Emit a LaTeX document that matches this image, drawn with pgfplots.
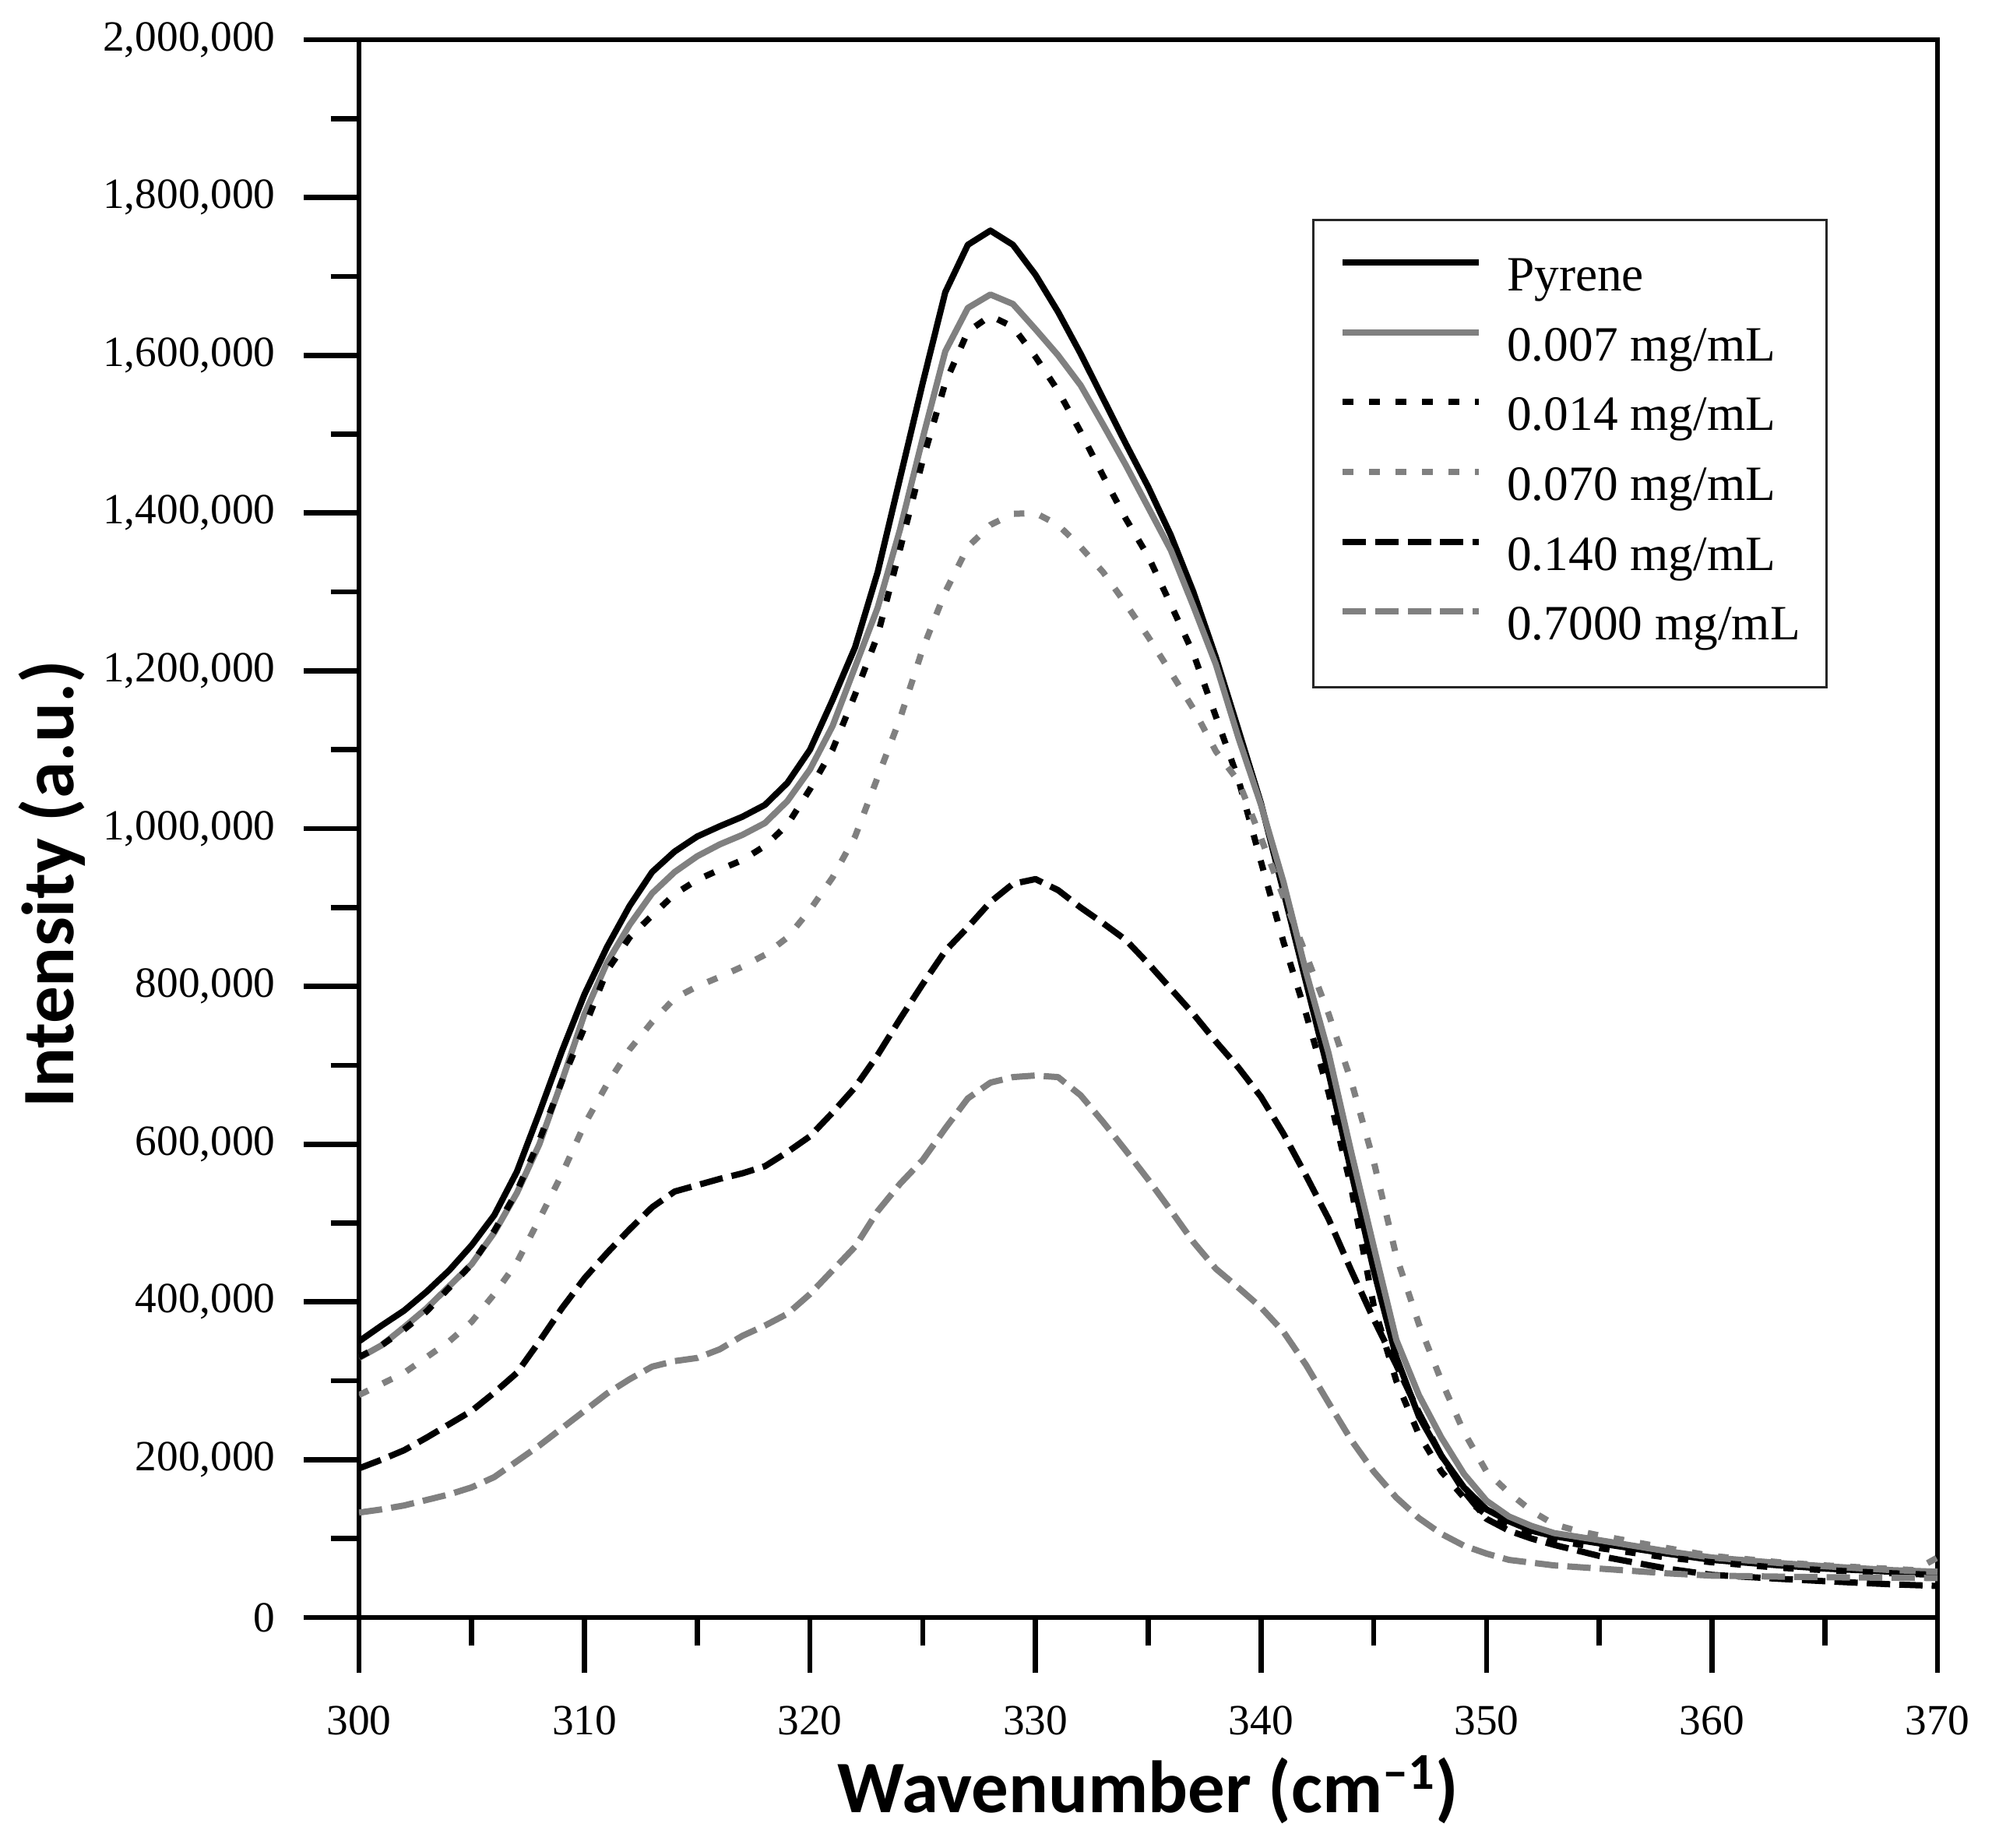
\documentclass[border=0pt]{standalone}
\usepackage{fontspec}
\setmainfont{Liberation Serif}
\newfontfamily\lblfont{Carlito}
\usepackage{pgfplots}
\pgfplotsset{compat=1.18}
\definecolor{mygray}{RGB}{128,128,128}

\begin{document}
\begin{tikzpicture}
\begin{axis}[
 name=ax,
 scale only axis,
 width=608.1pt, height=607.8pt,
 xmin=300, xmax=370, ymin=0, ymax=2000000,
 xtick={300,310,...,370},
 ytick={0,200000,...,2000000},
 minor x tick num=1, minor y tick num=1,
 xtick pos=left, ytick pos=left,
 tick align=outside,
 major tick length=21.3pt, minor tick length=10.9pt,
 tick style={black, line width=2pt},
 axis line style={line width=2pt},
 scaled y ticks=false,
 /pgf/number format/assume math mode=true,
 yticklabel style={/pgf/number format/.cd, fixed, precision=0, 1000 sep={,}},
 xticklabel style={/pgf/number format/.cd, 1000 sep={}},
 every tick label/.append style={font=\fontsize{16.6}{19}\selectfont, inner sep=0pt},
 xticklabel shift=12.7pt, yticklabel shift=10.7pt,
 xlabel={\lblfont\bfseries Wavenumber (cm\textsuperscript{–1})},
 ylabel={\lblfont\bfseries Intensity (a.u.)},
 label style={font=\fontsize{28.5}{34}\selectfont, inner sep=0pt},
 xlabel style={at={(axis description cs:0.5,-0.1238)}, anchor=base},
 ylabel style={at={(axis description cs:-0.1809,0.465)}, anchor=base},
 no markers,
 every axis plot/.append style={line width=2.4pt, line join=round},
 legend style={
   at={(axis description cs:0.6036,0.8865)}, anchor=north west,
   draw=black!85, line width=1pt, fill=white,
   font=\fontsize{19}{22}\selectfont,
   inner xsep=10.2pt, inner ysep=14.1pt,
   row sep=9.6pt, column sep=9.6pt,
   nodes={inner sep=0pt, text height=13.2pt, text depth=4.1pt},
 },
 legend cell align=left,
 legend image code/.code={\draw[line width=2.4pt,#1] (0pt,6.4pt) -- (52.5pt,6.4pt);},
]
% Pyrene
\addplot[black] coordinates {
(300,350000)(301,370000)(302,389000)(303,413000)(304,440000)(305,472000)(306,510000)(307,565000)(308,640000)(309,718000)
(310,790000)(311,850000)(312,902000)(313,945000)(314,971000)(315,990000)(316,1003000)(317,1015000)(318,1030000)(319,1058000)
(320,1100000)(321,1163000)(322,1230000)(323,1325000)(324,1445000)(325,1565000)(326,1680000)(327,1740000)(328,1758000)(329,1740000)
(330,1702000)(331,1655000)(332,1602000)(333,1545000)(334,1488000)(335,1433000)(336,1372000)(337,1300000)(338,1217000)(339,1125000)
(340,1032000)(341,920000)(342,805000)(343,690000)(344,565000)(345,440000)(346,330000)(347,255000)(348,205000)(349,165000)
(350,137000)(351,122000)(352,110000)(353,103000)(355,94000)(358,81000)(360,73000)(363,66000)(365,62000)(368,58000)(370,56000)
};
\addlegendentry{Pyrene}
% 0.007
\addplot[mygray] coordinates {
(300,329000)(301,345000)(302,368000)(303,392000)(304,420000)(305,448000)(306,488000)(307,538000)(308,600000)(309,680000)
(310,765000)(311,830000)(312,878000)(313,918000)(314,945000)(315,965000)(316,980000)(317,992000)(318,1007000)(319,1035000)
(320,1075000)(321,1130000)(322,1205000)(323,1280000)(324,1380000)(325,1495000)(326,1605000)(327,1660000)(328,1677000)(329,1665000)
(330,1633000)(331,1600000)(332,1562000)(333,1512000)(334,1461000)(335,1407000)(336,1353000)(337,1282000)(338,1208000)(339,1115000)
(340,1030000)(341,932000)(342,818000)(343,715000)(344,590000)(345,470000)(346,352000)(347,282000)(348,228000)(349,182000)
(350,148000)(351,128000)(352,116000)(353,107000)(355,98000)(358,84000)(360,76000)(363,69000)(365,65000)(368,60000)(370,58000)
};
\addlegendentry{0.007 mg/mL}
% 0.014
\addplot[black, dash pattern=on 4pt off 6.2pt] coordinates {
(300,330000)(301,345000)(302,365000)(303,388000)(304,418000)(305,448000)(306,490000)(307,540000)(308,605000)(309,680000)
(310,748000)(311,820000)(312,862000)(313,890000)(314,917000)(315,935000)(316,948000)(317,960000)(318,978000)(319,1005000)
(320,1050000)(321,1100000)(322,1170000)(323,1245000)(324,1355000)(325,1467000)(326,1565000)(327,1630000)(328,1650000)(329,1636000)
(330,1598000)(331,1555000)(332,1503000)(333,1447000)(334,1393000)(335,1345000)(336,1284000)(337,1222000)(338,1142000)(339,1062000)
(340,958000)(341,856000)(342,765000)(343,665000)(344,545000)(345,395000)(346,300000)(347,232000)(348,185000)(349,152000)
(350,130000)(351,116000)(352,106000)(353,98000)(355,88000)(358,76000)(360,70000)(363,63000)(365,60000)(368,56000)(370,54000)
};
\addlegendentry{0.014 mg/mL}
% 0.070
\addplot[mygray, dash pattern=on 4pt off 6.2pt] coordinates {
(300,282000)(301,296000)(302,310000)(303,330000)(304,350000)(305,375000)(306,410000)(307,450000)(308,505000)(309,562000)
(310,625000)(311,676000)(312,720000)(313,755000)(314,785000)(315,800000)(316,812000)(317,825000)(318,840000)(319,862000)
(320,897000)(321,938000)(322,990000)(323,1065000)(324,1140000)(325,1228000)(326,1300000)(327,1357000)(328,1385000)(329,1399000)
(330,1400000)(331,1385000)(332,1357000)(333,1325000)(334,1285000)(335,1243000)(336,1198000)(337,1152000)(338,1098000)(339,1060000)
(340,988000)(341,913000)(342,840000)(343,765000)(344,680000)(345,578000)(346,458000)(347,372000)(348,300000)(349,235000)
(350,185000)(351,158000)(352,135000)(353,118000)(354,110000)(355,104000)(358,88000)(360,78000)(363,70000)(365,66000)(369,60000)(370,76000)
};
\addlegendentry{0.070 mg/mL}
% 0.140
\addplot[black, dash pattern=on 9pt off 3.5pt] coordinates {
(300,189000)(301,200000)(302,212000)(303,228000)(304,245000)(305,262000)(306,285000)(307,310000)(308,350000)(309,392000)
(310,430000)(311,462000)(312,492000)(313,520000)(314,540000)(315,548000)(316,556000)(317,563000)(318,572000)(319,590000)
(320,610000)(321,640000)(322,672000)(323,713000)(324,759000)(325,803000)(326,845000)(327,875000)(328,907000)(329,930000)
(330,936000)(331,922000)(332,900000)(333,880000)(334,859000)(335,829000)(336,797000)(337,765000)(338,730000)(339,697000)
(340,660000)(341,613000)(342,560000)(343,505000)(344,440000)(345,378000)(346,320000)(347,260000)(348,205000)(349,160000)
(350,125000)(351,110000)(352,100000)(353,92000)(355,78000)(358,62000)(360,54000)(363,49000)(365,46000)(368,42000)(370,40000)
};
\addlegendentry{0.140 mg/mL}
% 0.7000
\addplot[mygray, dash pattern=on 9pt off 3.5pt] coordinates {
(300,133000)(301,137000)(302,142000)(303,149000)(304,156000)(305,165000)(306,178000)(307,198000)(308,218000)(309,240000)
(310,262000)(311,284000)(312,302000)(313,318000)(314,325000)(315,329000)(316,340000)(317,357000)(318,370000)(319,385000)
(320,410000)(321,440000)(322,470000)(323,515000)(324,550000)(325,580000)(326,620000)(327,658000)(328,678000)(329,685000)
(330,687000)(331,685000)(332,662000)(333,628000)(334,592000)(335,555000)(336,516000)(337,476000)(338,442000)(339,418000)
(340,393000)(341,362000)(342,320000)(343,272000)(344,225000)(345,185000)(346,152000)(347,126000)(348,106000)(349,91000)
(350,81000)(351,73000)(353,66000)(355,62000)(358,56000)(360,53000)(365,51000)(370,50000)
};
\addlegendentry{0.7000 mg/mL}
\end{axis}
\pgfresetboundingbox
\path ([shift={(-138.3pt,-88.5pt)}]ax.south west) rectangle ([shift={(21pt,15.3pt)}]ax.north east);
\end{tikzpicture}
\end{document}
